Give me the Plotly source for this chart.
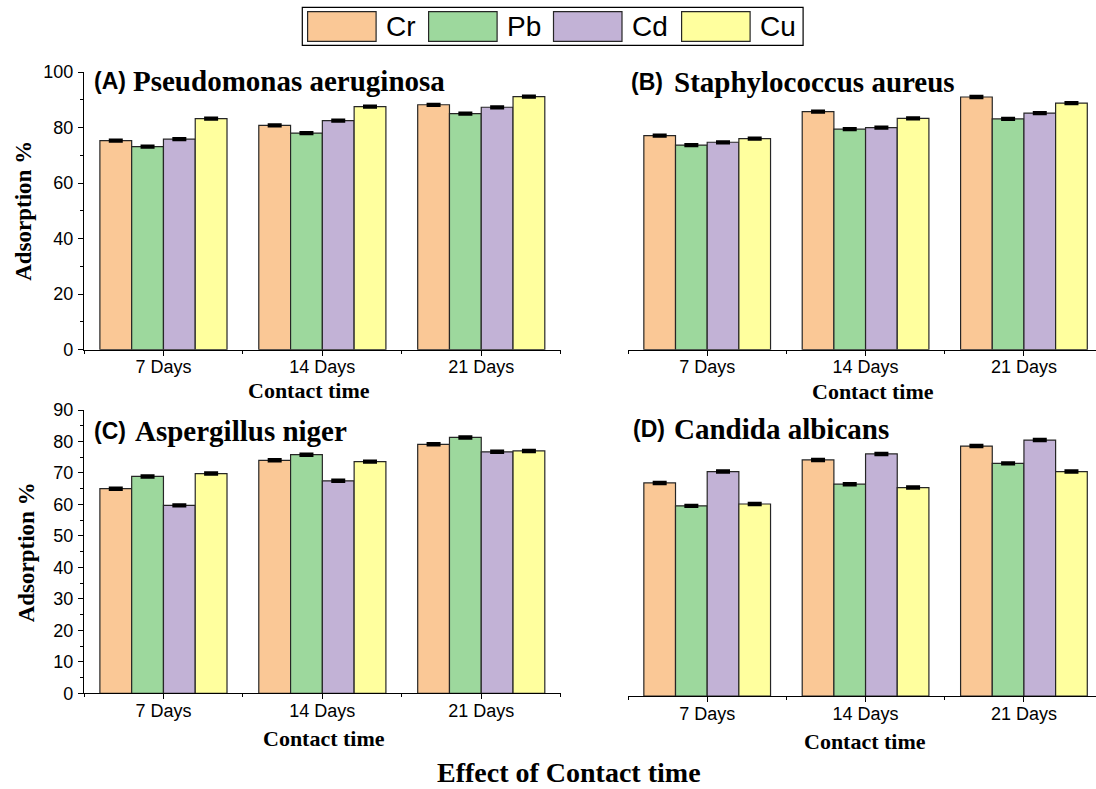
import plotly.graph_objects as go

# ---------------- data ----------------
categories = ["7 Days", "14 Days", "21 Days"]
metals = ["Cr", "Pb", "Cd", "Cu"]
colors = ["#FAC896", "#9DD89D", "#C2B2D6", "#FFFF9E"]

pseudomonas_cr = [75.3, 80.8, 88.2]
pseudomonas_pb = [73.1, 78.0, 85.0]
pseudomonas_cd = [75.8, 82.5, 87.3]
pseudomonas_cu = [83.2, 87.5, 91.1]

staphylococcus_cr = [77.1, 85.7, 91.0]
staphylococcus_pb = [73.7, 79.4, 83.1]
staphylococcus_cd = [74.7, 80.0, 85.2]
staphylococcus_cu = [76.0, 83.3, 88.8]

aspergillus_cr = [65.0, 74.0, 79.1]
aspergillus_pb = [68.9, 75.8, 81.3]
aspergillus_cd = [59.7, 67.5, 76.7]
aspergillus_cu = [69.8, 73.6, 77.0]

candida_cr = [67.7, 75.0, 79.4]
candida_pb = [60.4, 67.3, 73.9]
candida_cd = [71.3, 76.9, 81.3]
candida_cu = [61.0, 66.2, 71.3]

error_value = 0.3

# ---------------- layout helpers ----------------
W, H = 1096, 789
SERIF = "Liberation Serif"
SANS = "Liberation Sans"


def px(x):
    return x / W


def py(y):
    return 1 - y / H


panels = [
    dict(label="(A)", title="Pseudomonas aeruginosa",
         series=[pseudomonas_cr, pseudomonas_pb, pseudomonas_cd, pseudomonas_cu],
         ax="", xdom=[84.0, 560.7], xrange=[-0.5, 2.5], ydom=[349.7, 72.0], yrange=[0, 100],
         dtick=20, minor=10, showy=True,
         label_pos=(92, 81), title_x=131.0, xtitle_pos=(309, 390), ytitle_pos=(22.8, 211)),
    dict(label="(B)", title="Staphylococcus aureus",
         series=[staphylococcus_cr, staphylococcus_pb, staphylococcus_cd, staphylococcus_cu],
         ax="2", xdom=[628.0, 1096.0], xrange=[-0.5, 2.455], ydom=[349.7, 72.0], yrange=[0, 100],
         dtick=20, minor=10, showy=False,
         label_pos=(629, 82), title_x=672.0, xtitle_pos=(872.6, 391), ytitle_pos=None),
    dict(label="(C)", title="Aspergillus niger",
         series=[aspergillus_cr, aspergillus_pb, aspergillus_cd, aspergillus_cu],
         ax="3", xdom=[84.0, 560.7], xrange=[-0.5, 2.5], ydom=[693.3, 410.0], yrange=[0, 90],
         dtick=10, minor=5, showy=True,
         label_pos=(92, 431), title_x=132.5, xtitle_pos=(323.6, 738), ytitle_pos=(26.3, 552)),
    dict(label="(D)", title="Candida albicans",
         series=[candida_cr, candida_pb, candida_cd, candida_cu],
         ax="4", xdom=[628.0, 1096.0], xrange=[-0.5, 2.455], ydom=[696.0, 412.7], yrange=[0, 90],
         dtick=10, minor=5, showy=False,
         label_pos=(631, 429), title_x=672.0, xtitle_pos=(864.6, 741), ytitle_pos=None),
]

fig = go.Figure()
annotations = []
shapes = []
xpos = list(range(len(categories)))

for p in panels:
    for metal, color, vals in zip(metals, colors, p["series"]):
        fig.add_trace(go.Bar(
            x=xpos, y=vals, name=metal, showlegend=False,
            xaxis="x" + p["ax"], yaxis="y" + p["ax"],
            marker=dict(color=color, line=dict(color="#262626", width=1.2)),
            error_y=dict(type="constant", value=error_value, thickness=2.6,
                         width=7, color="black"),
        ))

    xa = dict(
        domain=[px(p["xdom"][0]), px(p["xdom"][1])], range=p["xrange"],
        anchor="y" + p["ax"], automargin=False,
        showline=True, linecolor="black", linewidth=1.3,
        ticks="outside", ticklen=5, tickwidth=1.2, tickcolor="black",
        tickmode="array", tickvals=xpos, ticktext=categories,
        ticklabelstandoff=-4,
        tickfont=dict(family=SANS, size=18, color="black"),
        showgrid=False, zeroline=False,
        minor=dict(tickmode="linear", tick0=0.5, dtick=1, ticks="outside",
                   ticklen=3, tickwidth=1, tickcolor="black"),
    )
    ya = dict(
        domain=[py(p["ydom"][0]), py(p["ydom"][1])], range=p["yrange"],
        anchor="x" + p["ax"], automargin=False, showgrid=False, zeroline=False,
    )
    if p["showy"]:
        ya.update(showline=True, linecolor="black", linewidth=1.3,
                  ticks="outside", ticklen=5, tickwidth=1.2, tickcolor="black",
                  tickmode="linear", tick0=0, dtick=p["dtick"],
                  ticklabelstandoff=1,
                  tickfont=dict(family=SANS, size=18, color="black"),
                  minor=dict(tickmode="linear", tick0=0, dtick=p["minor"], ticks="outside",
                             ticklen=3, tickwidth=1, tickcolor="black"))
    else:
        ya.update(visible=False)

    key = p["ax"]
    fig.update_layout(**{"xaxis" + key: xa, "yaxis" + key: ya})

    lx, ly = p["label_pos"]
    annotations.append(dict(text="<b>" + p["label"] + "</b>", x=px(lx), y=py(ly),
                            xref="paper", yref="paper", xanchor="left", yanchor="middle",
                            showarrow=False, font=dict(family=SANS, size=23, color="black")))
    annotations.append(dict(text="<b>" + p["title"] + "</b>", x=px(p["title_x"]), y=py(ly),
                            xref="paper", yref="paper", xanchor="left", yanchor="middle",
                            showarrow=False, font=dict(family=SERIF, size=29, color="black")))
    tx, ty = p["xtitle_pos"]
    annotations.append(dict(text="<b>Contact time</b>", x=px(tx), y=py(ty),
                            xref="paper", yref="paper", xanchor="center", yanchor="middle",
                            showarrow=False, font=dict(family=SERIF, size=22, color="black")))
    if p["ytitle_pos"]:
        yx, yy = p["ytitle_pos"]
        annotations.append(dict(text="<b>Adsorption %</b>", x=px(yx), y=py(yy), textangle=-90,
                                xref="paper", yref="paper", xanchor="center", yanchor="middle",
                                showarrow=False, font=dict(family=SERIF, size=23, color="black")))

annotations.append(dict(text="<b>Effect of Contact time</b>", x=px(568.8), y=0,
                        xref="paper", yref="paper", xanchor="center", yanchor="bottom",
                        borderpad=0, showarrow=False,
                        font=dict(family=SERIF, size=28, color="black")))

# ---------------- custom legend ----------------
shapes.append(dict(type="rect", xref="paper", yref="paper",
                   x0=px(302.3), x1=px(803.1), y0=py(45.3), y1=py(7.3),
                   line=dict(color="black", width=1.2), fillcolor="white", layer="below"))
swatch_x = [307.6, 428.6, 553.5, 681.6]
swatch_w = 68.5
for metal, color, sx in zip(metals, colors, swatch_x):
    shapes.append(dict(type="rect", xref="paper", yref="paper",
                       x0=px(sx), x1=px(sx + swatch_w), y0=py(41.3), y1=py(11.7),
                       line=dict(color="#262626", width=1.2), fillcolor=color))
    annotations.append(dict(text=metal, x=px(sx + swatch_w + 8), y=py(27),
                            xref="paper", yref="paper", xanchor="left", yanchor="middle",
                            showarrow=False, font=dict(family=SANS, size=28, color="black")))

fig.update_layout(
    width=W, height=H, margin=dict(l=0, r=0, t=0, b=0, pad=0, autoexpand=False),
    paper_bgcolor="white", plot_bgcolor="white",
    barmode="group", bargap=0.2, bargroupgap=0,
    annotations=annotations, shapes=shapes, showlegend=False,
)

fig.write_html("out.html")
